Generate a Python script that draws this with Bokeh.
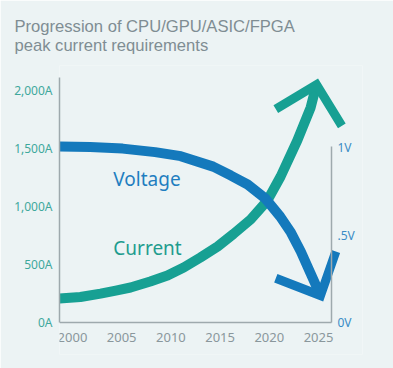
from bokeh.plotting import figure
from bokeh.models import Range1d, LinearAxis, Title, FixedTicker
from bokeh.core.properties import value
from bokeh.embed import file_html
from bokeh.resources import INLINE

# ---- data ----
title_lines = ["Progression of CPU/GPU/ASIC/FPGA", "peak current requirements"]

current_years = [1998.68, 2000.8, 2002.85, 2004.4, 2005.9, 2007.9, 2009.65, 2011.3, 2013.0,
                 2014.75, 2016.35, 2018.1, 2019.8, 2021.15, 2022.85, 2024.2, 2024.8]
current_amps = [206, 219, 249, 275, 301, 353, 404, 473, 559,
                654, 761, 886, 1049, 1256, 1566, 1849, 2047]
current_head_years = [2020.66, 2024.8, 2027.37]
current_head_amps = [1835, 2047, 1692]

voltage_years = [1998.68, 2001.8, 2005.1, 2008.4, 2011.0, 2014.3, 2016.1, 2017.8, 2019.6,
                 2021.1, 2022.2, 2023.2, 2024.2, 2025.2]
voltage_volts = [1.006, 1.003, 0.994, 0.974, 0.951, 0.891, 0.840, 0.789, 0.709,
                 0.606, 0.514, 0.406, 0.280, 0.154]
voltage_head_years = [2020.66, 2025.2, 2026.76]
voltage_head_volts = [0.253, 0.154, 0.406]

series_labels = ["Voltage", "Current"]
series_label_years = [2004.15, 2004.15]
series_label_amps = [1232, 644]

year_ticks = [2000, 2005, 2010, 2015, 2020, 2025]
amp_ticks = [0, 500, 1000, 1500, 2000]
amp_labels = ["0A", "500A", "1,000A", "1,500A", "2,000A"]
volt_ticks = [0, 0.5, 1]
volt_labels = ["0V", ".5V", "1V"]

X_START, X_AXIS_END, X_END = 1998.68, 2026.32, 2029.47
A_BOTTOM, A_TOP = -275.3, 2211
AMPS_PER_VOLT = 1505

BG = "#ecf3f4"
BLUE = "#1479bc"
TEAL = "#17a093"
AXIS = "#9ea9ad"
FONT = "Noto Sans"

p = figure(width=393, height=368, output_backend="svg", toolbar_location=None,
           x_range=Range1d(X_START, X_END), y_range=Range1d(A_BOTTOM, A_TOP),
           min_border_left=59, min_border_right=31, min_border_top=65, min_border_bottom=14,
           background_fill_color=BG, border_fill_color=BG, outline_line_color=None)
p.extra_y_ranges = {"volt": Range1d(A_BOTTOM / AMPS_PER_VOLT, A_TOP / AMPS_PER_VOLT)}
p.xgrid.visible = False
p.ygrid.visible = False

p.title = Title(text="\n".join(title_lines), align="left", offset=-45,
                text_font="Liberation Sans", text_font_size="16.6px", text_font_style="normal",
                text_color="#7f8d93", text_line_height=1.0, standoff=22, vertical_align="bottom")

def style_axis(ax, color, size):
    ax.axis_line_color = AXIS
    ax.axis_line_width = 1.5
    ax.major_tick_line_color = None
    ax.minor_tick_line_color = None
    ax.major_tick_out = 0
    ax.major_tick_in = 0
    ax.major_label_text_color = color
    ax.major_label_text_font = FONT
    ax.major_label_text_font_size = size

xa = p.xaxis[0]
style_axis(xa, "#8a979c", "13px")
xa.ticker = FixedTicker(ticks=year_ticks)
xa.major_label_standoff = 11
xa.bounds = (X_START, X_AXIS_END)
xa.fixed_location = 0

ya = p.yaxis[0]
style_axis(ya, "#3ea89c", "12px")
ya.ticker = FixedTicker(ticks=amp_ticks)
ya.major_label_overrides = {t: s for t, s in zip(amp_ticks, amp_labels)}
ya.bounds = (0, 2108)
ya.major_label_standoff = 7

ra = LinearAxis(y_range_name="volt", fixed_location=X_AXIS_END)
style_axis(ra, "#3a8cc6", "12px")
ra.ticker = FixedTicker(ticks=volt_ticks)
ra.major_label_overrides = {t: s for t, s in zip(volt_ticks, volt_labels)}
ra.bounds = (0, 1.006)
ra.major_label_standoff = 6
p.add_layout(ra, "right")

# current (teal)
p.line(current_years, current_amps, line_color=TEAL, line_width=10, line_cap="butt", line_join="round")
p.line(current_head_years, current_head_amps, line_color=TEAL, line_width=9,
       line_cap="butt", line_join="miter")

# voltage (blue)
p.line(voltage_years, voltage_volts, y_range_name="volt", line_color=BLUE, line_width=10,
       line_cap="butt", line_join="round")
p.line(voltage_head_years, voltage_head_volts, y_range_name="volt", line_color=BLUE, line_width=9,
       line_cap="butt", line_join="miter")

p.text(x=series_label_years, y=series_label_amps, text=series_labels,
       text_color=["#1f7ec0", "#1e9c8e"], text_font=value(FONT),
       text_font_size="19px", text_baseline="alphabetic", text_align="left")

open("out.html", "w").write(file_html(p, INLINE))
